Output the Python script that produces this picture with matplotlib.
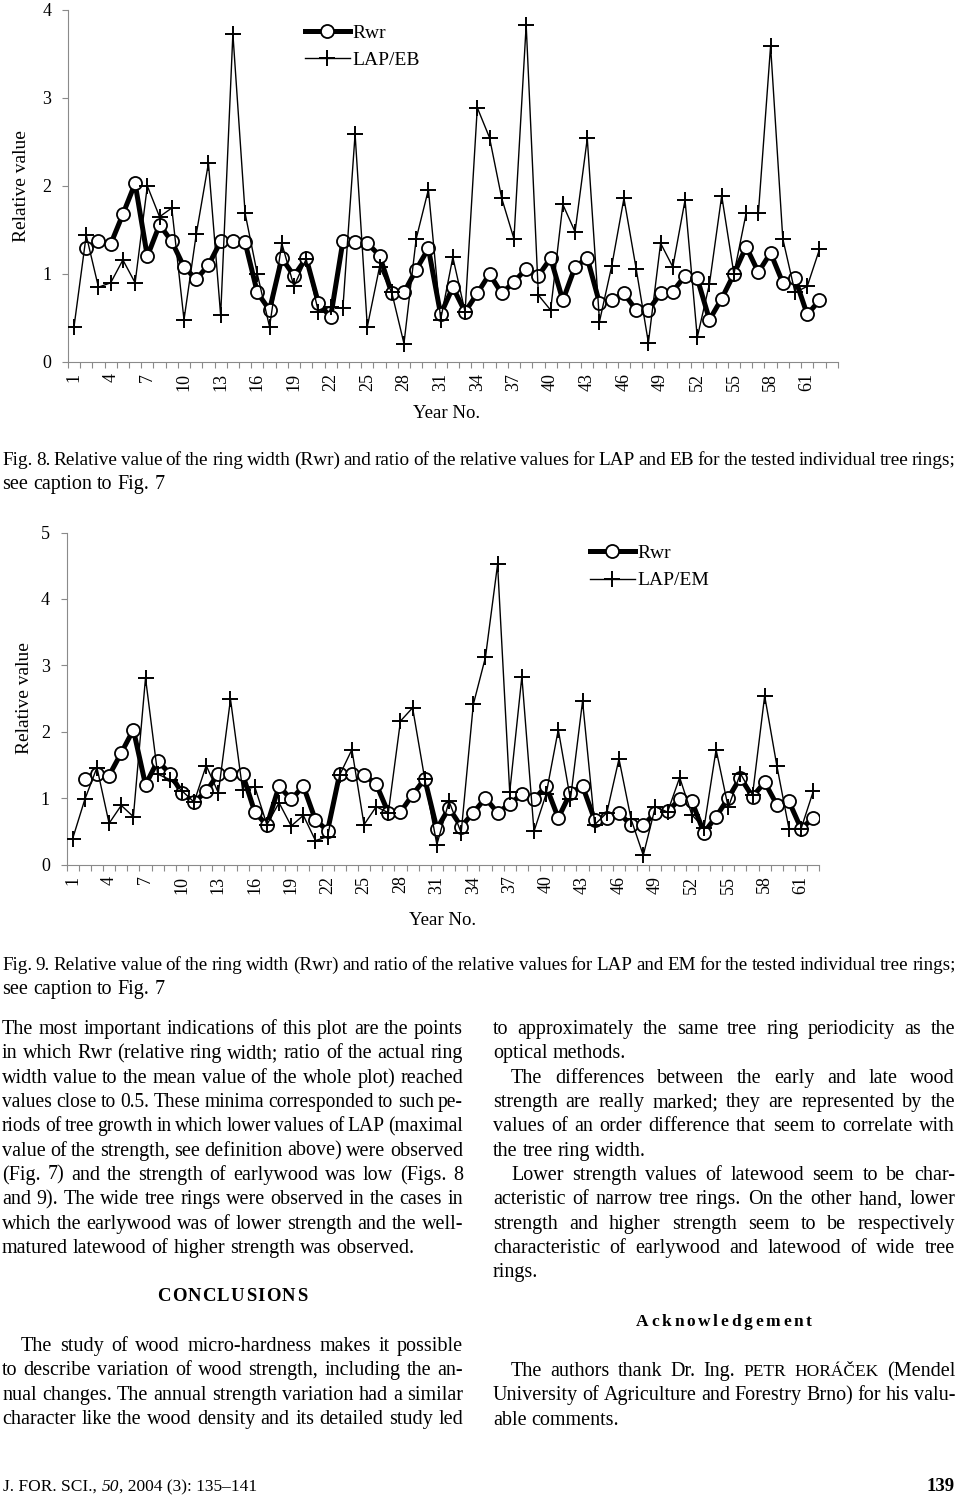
import numpy as np
import matplotlib
matplotlib.use("Agg")
import matplotlib.pyplot as plt

# page size in pixels (figure saved at dpi 100)
W, H = 960, 1497
SERIF = "Liberation Serif"
plt.rcParams["font.family"] = [SERIF, "DejaVu Serif"]

# %% data (year 1..62)
years = np.arange(1, 63)

rwr = [np.nan, 1.29, 1.37, 1.34, 1.68, 2.03, 1.20, 1.56, 1.37, 1.08,
       0.94, 1.10, 1.37, 1.37, 1.36, 0.79, 0.59, 1.18, 0.98, 1.18,
       0.67, 0.51, 1.37, 1.36, 1.35, 1.21, 0.78, 0.79, 1.05, 1.29,
       0.54, 0.85, 0.57, 0.78, 1.00, 0.78, 0.91, 1.06, 0.98, 1.18,
       0.70, 1.08, 1.18, 0.67, 0.70, 0.78, 0.59, 0.59, 0.78, 0.80,
       0.98, 0.95, 0.48, 0.72, 1.00, 1.31, 1.02, 1.24, 0.90, 0.95,
       0.54, 0.70]

lap_eb = [0.40, 1.44, 0.85, 0.90, 1.16, 0.90, 2.00, 1.65, 1.75, 0.48,
          1.45, 2.26, 0.53, 3.73, 1.69, 1.00, 0.40, 1.35, 0.86, 1.17,
          0.57, 0.63, 0.61, 2.59, 0.40, 1.08, 0.79, 0.21, 1.40, 1.96,
          0.48, 1.19, 0.57, 2.89, 2.55, 1.86, 1.40, 3.83, 0.76, 0.59,
          1.79, 1.48, 2.54, 0.46, 1.09, 1.86, 1.06, 0.22, 1.35, 1.08,
          1.84, 0.28, 0.89, 1.89, 1.00, 1.69, 1.69, 3.59, 1.40, 0.79,
          0.86, 1.28]

lap_em = [0.39, 0.98, 1.46, 0.62, 0.89, 0.72, 2.81, 1.36, 1.28, 1.11,
          0.94, 1.49, 1.08, 2.49, 1.12, 1.17, 0.60, 0.93, 0.58, 0.74,
          0.36, 0.42, 1.35, 1.73, 0.60, 0.87, 0.78, 2.16, 2.36, 1.29,
          0.30, 0.95, 0.48, 2.41, 3.12, 4.52, 1.09, 2.83, 0.50, 1.06,
          2.03, 0.98, 2.46, 0.60, 0.78, 1.59, 0.68, 0.14, 0.87, 0.79,
          1.31, 0.75, 0.55, 1.73, 0.86, 1.37, 1.05, 2.54, 1.49, 0.54,
          0.54, 1.10]

tick_years = list(range(1, 62, 3))

# %% page text
caption_8 = ["Fig. 8. Relative value of the ring width (Rwr) and ratio of the relative values for LAP and EB for the tested individual tree rings;",
             "see caption to Fig. 7"]
caption_9 = ["Fig. 9. Relative value of the ring width (Rwr) and ratio of the relative values for LAP and EM for the tested individual tree rings;",
             "see caption to Fig. 7"]

# (text, justified, indented)
left_col = [
    ("The most important indications of this plot are the points", True, False),
    ("in which Rwr (relative ring width; ratio of the actual ring", True, False),
    ("width value to the mean value of the whole plot) reached", True, False),
    ("values close to 0.5. These minima corresponded to such pe-", True, False),
    ("riods of tree growth in which lower values of LAP (maximal", True, False),
    ("value of the strength, see definition above) were observed", True, False),
    ("(Fig. 7) and the strength of earlywood was low (Figs. 8", True, False),
    ("and 9). The wide tree rings were observed in the cases in", True, False),
    ("which the earlywood was of lower strength and the well-", True, False),
    ("matured latewood of higher strength was observed.", False, False),
]
left_col_2 = [
    ("The study of wood micro-hardness makes it possible", True, True),
    ("to describe variation of wood strength, including the an-", True, False),
    ("nual changes. The annual strength variation had a similar", True, False),
    ("character like the wood density and its detailed study led", True, False),
]
right_col = [
    ("to approximately the same tree ring periodicity as the", True, False),
    ("optical methods.", False, False),
    ("The differences between the early and late wood", True, True),
    ("strength are really marked; they are represented by the", True, False),
    ("values of an order difference that seem to correlate with", True, False),
    ("the tree ring width.", False, False),
    ("Lower strength values of latewood seem to be char-", True, True),
    ("acteristic of narrow tree rings. On the other hand, lower", True, False),
    ("strength and higher strength seem to be respectively", True, False),
    ("characteristic of earlywood and latewood of wide tree", True, False),
    ("rings.", False, False),
]
right_col_2 = [
    ("The authors thank Dr. Ing. PETR HORÁČEK (Mendel", True, True),
    ("University of Agriculture and Forestry Brno) for his valu-", True, False),
    ("able comments.", False, False),
]
small_caps = {"PETR", "HORÁČEK"}

# %% figure
fig = plt.figure(figsize=(W / 100, H / 100), dpi=100)
renderer = fig.canvas.get_renderer()


def fy(y):
    # pixel row from top -> figure fraction
    return 1 - y / H


def word_size(w, size):
    return size * 0.86 if w.strip("(),.") in small_caps else size


def measure(words, size):
    # width in pixels of each word at a given font size
    widths = []
    for w in words:
        t = fig.text(0, 0, w, fontsize=word_size(w, size))
        widths.append(t.get_window_extent(renderer).width)
        t.remove()
    return widths


def text_line(x0, x1, y, line, size, justify=True, indent=0):
    # place one line word by word, spread out to the column width;
    # shrink the font a little when the words do not fit
    words = line.split()
    while True:
        widths = measure(words, size)
        space = size * 100 / 72 * 0.25
        if justify and len(words) > 1:
            gap = (x1 - x0 - indent - sum(widths)) / (len(words) - 1)
        else:
            gap = space
        if gap >= space * 0.7 or size < 8:
            break
        size *= 0.985
    x = x0 + indent
    for w, wd in zip(words, widths):
        fig.text(x / W, fy(y), w, fontsize=word_size(w, size), va="baseline")
        x += wd + gap


def spaced(x0, x1, y, word, size, **kw):
    # letter-spaced heading
    items = [fig.text(0, fy(y), c, fontsize=size, va="baseline", **kw) for c in word]
    widths = [t.get_window_extent(renderer).width for t in items]
    gap = (x1 - x0 - sum(widths)) / (len(word) - 1)
    x = x0
    for t, w in zip(items, widths):
        t.set_x(x / W)
        x += w + gap


def draw_chart(box, lap, lap_label, ymax, ncat, legend_xy):
    left, top, right, bottom = box
    ax = fig.add_axes([left / W, fy(bottom), (right - left) / W, (bottom - top) / H])
    # Rwr: thick line with open circles
    ax.plot(years, rwr, color="black", lw=3.6, marker="o", ms=9.4,
            mfc="white", mec="black", mew=1.3, label="Rwr", zorder=2)
    # ratio: thin line with plus markers, drawn on top
    ax.plot(years, lap, color="black", lw=1.0, marker="+", ms=11.5,
            mew=1.4, label=lap_label, zorder=3)
    ax.set_xlim(0.5, ncat + 0.5)
    ax.set_ylim(0, ymax)
    ax.set_xticks(tick_years)
    ax.set_xticklabels([str(t) for t in tick_years], rotation=90, fontsize=13)
    ax.set_xticks(np.arange(0.5, ncat + 1), minor=True)
    ax.tick_params(axis="x", which="major", length=0, pad=8)
    ax.tick_params(axis="x", which="minor", length=4, color="#8a8a8a", width=0.8)
    ax.set_yticks(range(ymax + 1))
    ax.tick_params(axis="y", length=4, color="#8a8a8a", width=0.8, pad=8, labelsize=13)
    for side in ["top", "right"]:
        ax.spines[side].set_visible(False)
    for side in ["left", "bottom"]:
        ax.spines[side].set_color("#8a8a8a")
        ax.spines[side].set_linewidth(0.8)
    ax.legend(loc="center left", bbox_to_anchor=(legend_xy[0] / W, fy(legend_xy[1])),
              bbox_transform=fig.transFigure, frameon=False, fontsize=14,
              handlelength=2.3, handletextpad=0.12, labelspacing=0.5,
              borderpad=0, borderaxespad=0, numpoints=1)
    return ax


# Fig. 8 chart
draw_chart((67.9, 10, 837.8, 362), lap_eb, "LAP/EB", 4, 63, (305, 46.5))
fig.text(22 / W, fy(186), "Relative value", rotation=90, fontsize=14, ha="center", va="center")
fig.text(447 / W, fy(413), "Year No.", fontsize=13.5, ha="center", va="center")

# Fig. 9 chart
draw_chart((66.6, 532.5, 819.3, 864.5), lap_em, "LAP/EM", 5, 62, (590, 567))
fig.text(25 / W, fy(698), "Relative value", rotation=90, fontsize=14, ha="center", va="center")
fig.text(443 / W, fy(921), "Year No.", fontsize=13.5, ha="center", va="center")

# captions
BODY = 14.5
text_line(2, 956, 465, caption_8[0], BODY, True)
text_line(2, 956, 489, caption_8[1], BODY, False)
text_line(2, 956, 970, caption_9[0], BODY, True)
text_line(2, 956, 994, caption_9[1], BODY, False)

# two text columns
step = 24.33
for i, (line, just, ind) in enumerate(left_col):
    text_line(2, 463, 1034 + i * step, line, BODY, just, 19 if ind else 0)
spaced(157, 307, 1301, "CONCLUSIONS", 13.5, fontweight="bold")
for i, (line, just, ind) in enumerate(left_col_2):
    text_line(2, 463, 1351 + i * step, line, BODY, just, 19 if ind else 0)

for i, (line, just, ind) in enumerate(right_col):
    text_line(493, 955, 1034 + i * step, line, BODY, just, 18 if ind else 0)
spaced(636, 812, 1326, "Acknowledgement", 12.5, fontweight="bold")
for i, (line, just, ind) in enumerate(right_col_2):
    text_line(493, 955, 1376 + i * step, line, BODY, just, 18 if ind else 0)

# footer
x = 3
for piece, style in [("J. FOR. SCI., ", "normal"), ("50", "italic"), (", 2004 (3): 135–141", "normal")]:
    t = fig.text(x / W, fy(1491), piece, fontsize=12.5, fontstyle=style, va="baseline")
    x += t.get_window_extent(renderer).width
fig.text(955 / W, fy(1491), "139", fontsize=13.5, fontweight="bold", ha="right", va="baseline")

fig.savefig("out.png", dpi=100)
